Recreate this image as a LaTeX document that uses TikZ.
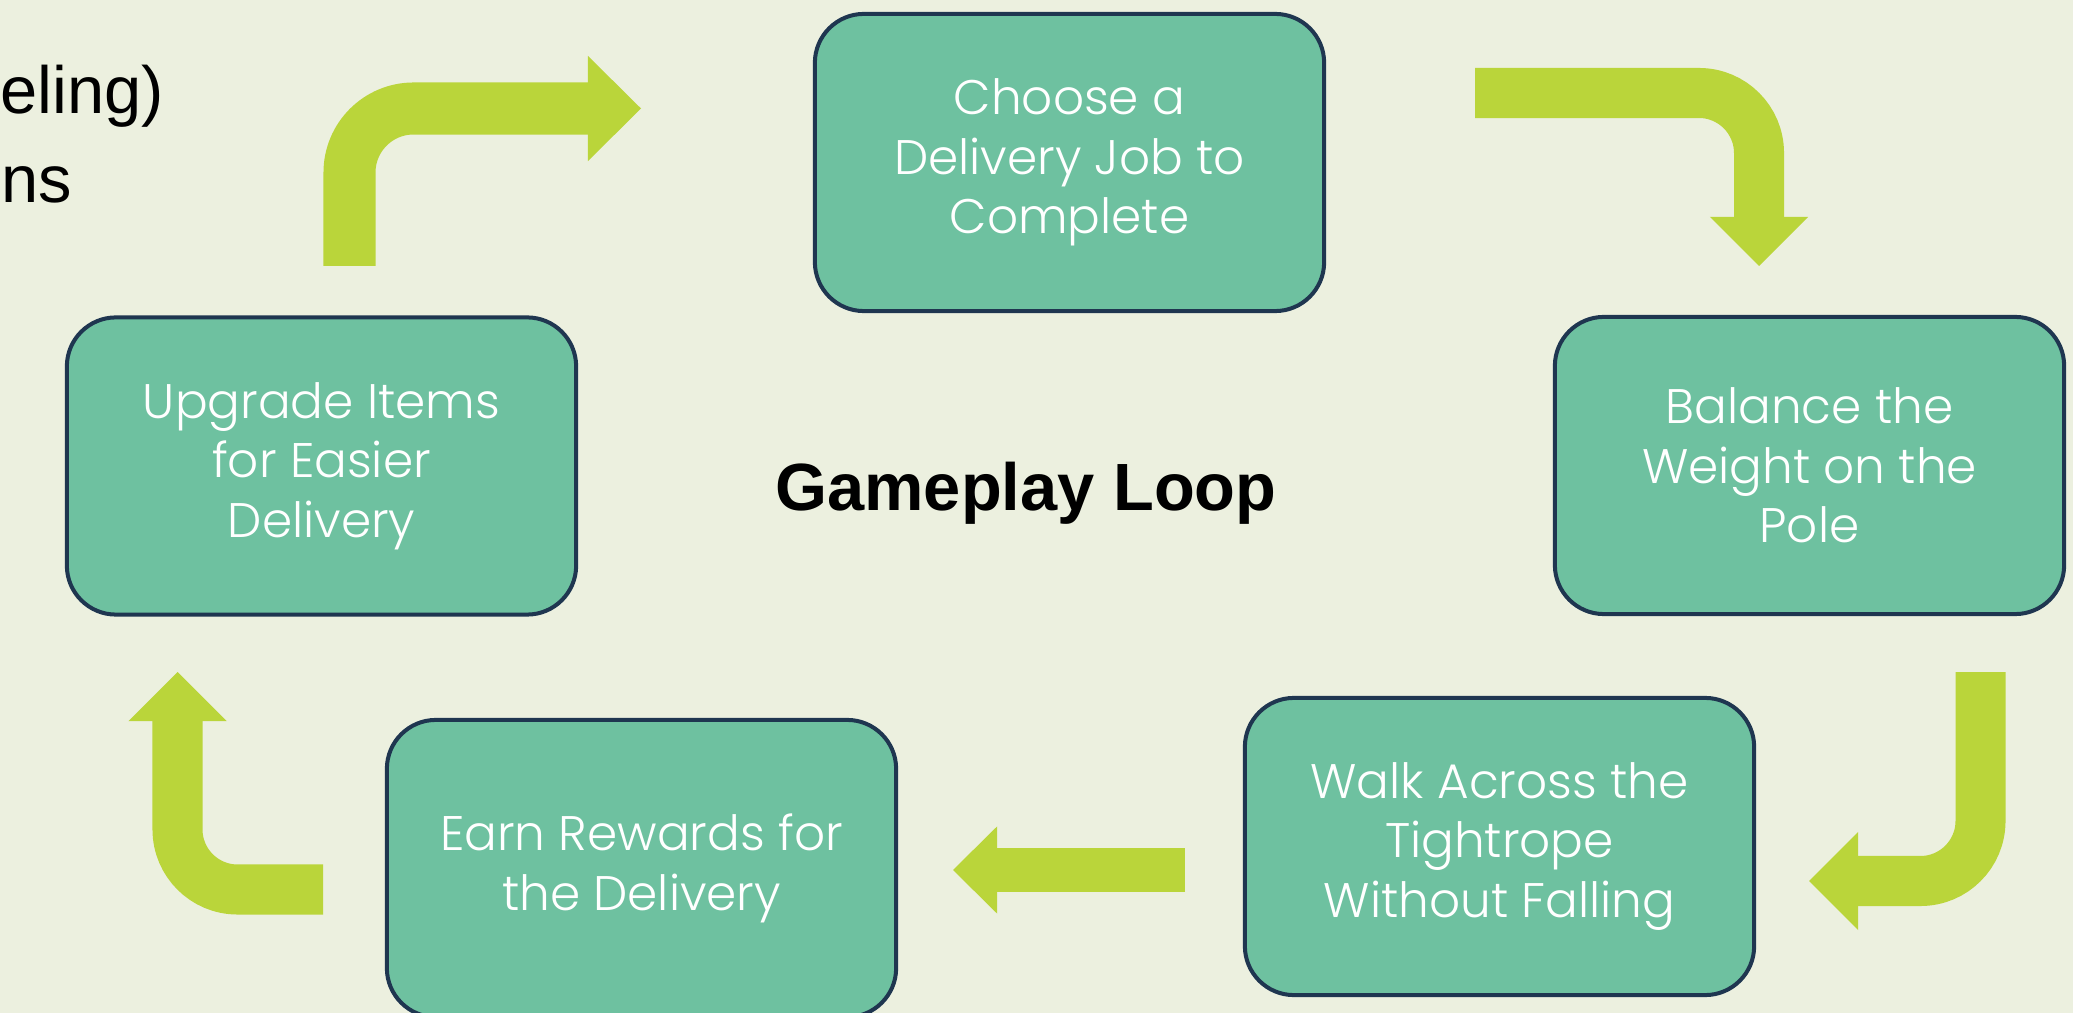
\documentclass[tikz,border=0pt]{standalone}
\usepackage{fontspec}
\setmainfont{Liberation Sans}
\newfontfamily\boxfont{Poppins Light}
\usetikzlibrary{arrows.meta}
\definecolor{bg}{RGB}{236,240,223}
\definecolor{boxfill}{RGB}{110,193,160}
\definecolor{boxline}{RGB}{31,54,80}
\definecolor{arrowgreen}{RGB}{186,213,58}
\begin{document}
\begin{tikzpicture}[x=0.01cm,y=-0.01cm,
  stepbox/.style={draw=boxline, line width=1.14pt, fill=boxfill, rounded corners=0.49cm,
    minimum width=5.09cm, minimum height=2.97cm, inner sep=0pt, align=center, text=white,
    font=\boxfont\fontsize{13.8pt}{16.9pt}\selectfont},
  flow/.style={draw=arrowgreen, line width=0.5cm, rounded corners=0.6cm,
    -{Triangle[length=0.49cm,width=0.98cm,line width=0pt]}},
  cut/.style={inner sep=0pt, font=\fontsize{19pt}{23pt}\selectfont}
]
\useasboundingbox (0,0) rectangle (2073,1013);
\fill[bg] (0,0) rectangle (2073,1013);
\clip (0,0) rectangle (2073,1013);

% cropped side text
\node[cut, anchor=base west] (t1) at (0,114) {eling)};
\node[cut, anchor=base west] (t2) at (1,203) {ns};

% steps
\node[stepbox] (choose)  at (1069.5,162.5) {Choose a\\Delivery Job to\\Complete};
\node[stepbox] (balance) at (1809.5,465.5) {Balance the\\Weight on the\\Pole};
\node[stepbox] (walk)    at (1499.5,846.5) {Walk Across the\\Tightrope\\Without Falling};
\node[stepbox] (earn)    at (641.5,868.5)  {Earn Rewards for\\the Delivery};
\node[stepbox] (upgrade) at (321.5,466)    {Upgrade Items\\for Easier\\Delivery};

% title
\node[anchor=base, inner sep=0pt, font=\bfseries\fontsize{19pt}{23pt}\selectfont] (title) at (1026,511) {Gameplay Loop};

% arrows
\coordinate (a1s) at (349.5,266);  \coordinate (a1e) at (641,108.5);
\coordinate (a2s) at (1475,93);    \coordinate (a2e) at (1759,266);
\coordinate (a3s) at (1980.5,672); \coordinate (a3e) at (1809,881);
\coordinate (a4s) at (1185,870);   \coordinate (a4e) at (953,870);
\coordinate (a5s) at (323,889.5);  \coordinate (a5e) at (177.5,672);

\draw[flow, line width=0.52cm, rounded corners=0.64cm,
  -{Triangle[length=0.53cm,width=1.05cm,line width=0pt]}] (a1s) |- (a1e);
\draw[flow] (a2s) -| (a2e);
\draw[flow] (a3s) |- (a3e);
\draw[flow, line width=0.44cm,
  -{Triangle[length=0.44cm,width=0.87cm,line width=0pt]}] (a4s) -- (a4e);
\draw[flow] (a5s) -| (a5e);
\end{tikzpicture}
\end{document}
